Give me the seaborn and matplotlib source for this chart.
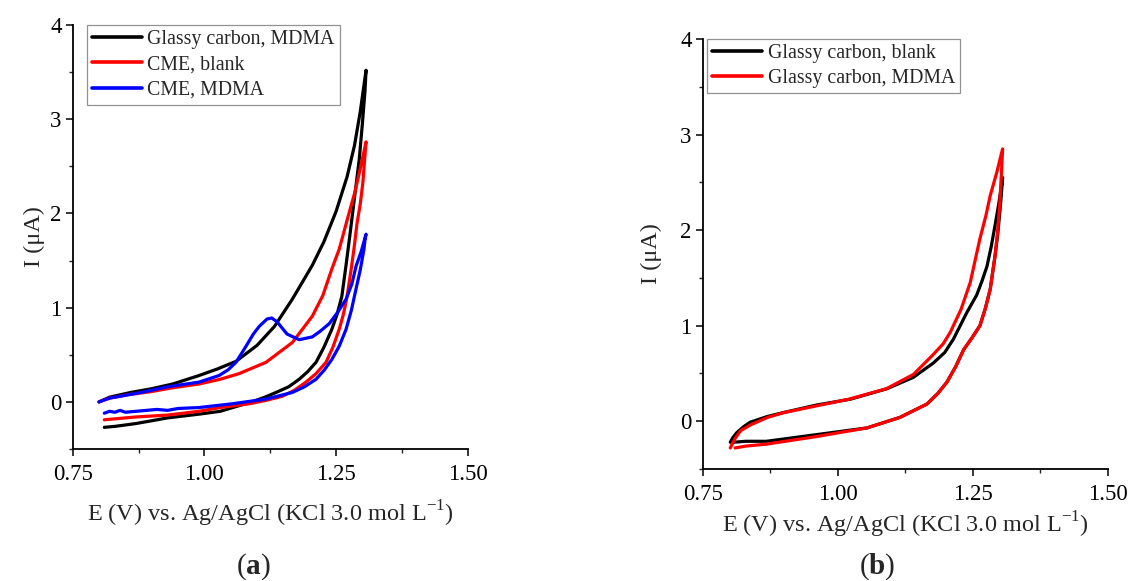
"""
Cyclic voltammograms: (a) glassy carbon vs CME, (b) glassy carbon blank vs MDMA
"""

import numpy as np
import pandas as pd
import matplotlib
matplotlib.use('Agg')
import matplotlib.pyplot as plt
from matplotlib.ticker import AutoMinorLocator, FormatStrFormatter
import seaborn as sns


# ══════════════════════════════════════════════════════
#  DATA (forward scan then return scan)
# ══════════════════════════════════════════════════════
# panel (a)
gc_mdma_E = [0.80, 0.82, 0.86, 0.90, 0.94, 0.99, 1.025, 1.06, 1.10, 1.133, 1.167,
             1.205, 1.227, 1.25, 1.271, 1.285, 1.296, 1.307,
             1.305, 1.300, 1.294, 1.284, 1.277, 1.269, 1.261, 1.252, 1.242,
             1.227, 1.212, 1.196, 1.18, 1.16, 1.136, 1.115, 1.09,
             1.03, 0.99, 0.93, 0.87, 0.83, 0.81]
gc_mdma_I = [0.00, 0.05, 0.10, 0.14, 0.19, 0.28, 0.35, 0.43, 0.60, 0.80, 1.09,
             1.45, 1.70, 2.02, 2.39, 2.72, 3.08, 3.52,
             3.30, 2.95, 2.57, 2.12, 1.80, 1.45, 1.12, 0.93, 0.77,
             0.58, 0.42, 0.32, 0.24, 0.16, 0.10, 0.05, 0.00,
             -0.10, -0.13, -0.17, -0.23, -0.26, -0.27]

cme_blank_E = [0.80, 0.82, 0.86, 0.90, 0.94, 0.99, 1.03, 1.066, 1.117, 1.167, 1.205,
               1.225, 1.242, 1.256, 1.275, 1.286, 1.297, 1.307,
               1.304, 1.301, 1.296, 1.290, 1.284, 1.278, 1.271, 1.264, 1.256,
               1.244, 1.231, 1.212, 1.193, 1.17, 1.148, 1.12, 1.085,
               1.03, 0.99, 0.93, 0.87, 0.83, 0.81]
cme_blank_I = [0.00, 0.04, 0.08, 0.11, 0.15, 0.19, 0.24, 0.30, 0.42, 0.63, 0.91,
               1.13, 1.41, 1.62, 2.01, 2.23, 2.50, 2.76,
               2.55, 2.33, 2.10, 1.90, 1.62, 1.38, 1.12, 0.93, 0.77,
               0.58, 0.42, 0.30, 0.21, 0.12, 0.06, 0.02, -0.02,
               -0.06, -0.10, -0.14, -0.16, -0.18, -0.19]

cme_mdma_E = [0.80, 0.82, 0.84, 0.88, 0.93, 0.99, 1.028, 1.045, 1.06, 1.079, 1.093,
              1.104, 1.119, 1.128, 1.138, 1.157, 1.18, 1.205, 1.22, 1.237, 1.253,
              1.269, 1.28, 1.288, 1.298, 1.307,
              1.305, 1.303, 1.296, 1.288, 1.279, 1.269, 1.256, 1.242, 1.228, 1.212,
              1.19, 1.167, 1.117, 1.053, 0.99,
              0.95, 0.93, 0.91, 0.89, 0.87, 0.85, 0.84, 0.83, 0.82, 0.81]
cme_mdma_I = [0.00, 0.04, 0.06, 0.10, 0.16, 0.21, 0.28, 0.34, 0.42, 0.59, 0.72,
              0.80, 0.88, 0.89, 0.85, 0.72, 0.66, 0.69, 0.75, 0.83, 0.95,
              1.09, 1.25, 1.44, 1.60, 1.78,
              1.72, 1.62, 1.40, 1.20, 0.97, 0.77, 0.59, 0.45, 0.34, 0.24,
              0.16, 0.10, 0.03, -0.02, -0.06,
              -0.07, -0.09, -0.08, -0.09, -0.10, -0.11, -0.09, -0.11, -0.10, -0.12]

# panel (b)
gc_blank_E = [0.801, 0.806, 0.813, 0.825, 0.838, 0.87, 0.899, 0.961, 1.023, 1.091,
              1.140, 1.177, 1.198, 1.214, 1.239, 1.257, 1.267, 1.276, 1.284,
              1.291, 1.298, 1.305,
              1.303, 1.300, 1.296, 1.291, 1.282, 1.273, 1.263, 1.248, 1.233,
              1.218, 1.202, 1.185, 1.165, 1.115, 1.054,
              0.961, 0.868, 0.83, 0.807]
gc_blank_I = [-0.22, -0.17, -0.12, -0.06, -0.01, 0.05, 0.09, 0.17, 0.23, 0.34,
              0.46, 0.61, 0.72, 0.86, 1.14, 1.32, 1.47, 1.62, 1.83,
              2.05, 2.28, 2.55,
              2.40, 2.20, 1.96, 1.73, 1.38, 1.18, 1.00, 0.87, 0.75,
              0.57, 0.41, 0.29, 0.18, 0.04, -0.07,
              -0.14, -0.21, -0.21, -0.22]

gc_mdma_b_E = [0.801, 0.81, 0.82, 0.838, 0.87, 0.90, 0.96, 1.02, 1.09, 1.14, 1.177,
               1.195, 1.208, 1.228, 1.245, 1.263, 1.274, 1.282, 1.294, 1.305,
               1.303, 1.300, 1.296, 1.291, 1.282, 1.273, 1.263, 1.248, 1.233,
               1.218, 1.202, 1.185, 1.165, 1.115, 1.054,
               0.961, 0.868, 0.83, 0.81]
gc_mdma_b_I = [-0.28, -0.18, -0.10, -0.04, 0.04, 0.09, 0.16, 0.23, 0.34, 0.49, 0.70,
               0.81, 0.93, 1.17, 1.45, 1.91, 2.15, 2.36, 2.60, 2.85,
               2.62, 2.30, 2.00, 1.73, 1.38, 1.18, 1.00, 0.87, 0.75,
               0.57, 0.41, 0.29, 0.18, 0.04, -0.07,
               -0.16, -0.24, -0.26, -0.28]

labels_a = ['Glassy carbon, MDMA', 'CME, blank', 'CME, MDMA']
labels_b = ['Glassy carbon, blank', 'Glassy carbon, MDMA']
colors_a = ['black', '#ff0000', '#0000ff']
colors_b = ['black', '#ff0000']

x_ticks = [0.75, 1.00, 1.25, 1.50]
y_ticks = [0, 1, 2, 3, 4]
x_label = 'E (V) vs. Ag/AgCl (KCl 3.0 mol L$^{\\mathregular{-1}}$)'
y_label = 'I (\u03bcA)'


def build_frame(curves, names):
    parts = []
    for (e, i), name in zip(curves, names):
        parts.append(pd.DataFrame({'E': e, 'I': i, 'trace': name}))
    return pd.concat(parts, ignore_index=True)


df_a = build_frame([(gc_mdma_E, gc_mdma_I), (cme_blank_E, cme_blank_I),
                    (cme_mdma_E, cme_mdma_I)], labels_a)
df_b = build_frame([(gc_blank_E, gc_blank_I), (gc_mdma_b_E, gc_mdma_b_I)], labels_b)


# ══════════════════════════════════════════════════════
#  STYLE
# ══════════════════════════════════════════════════════
sns.set_style('ticks')
plt.rcParams['font.family'] = ['Liberation Serif', 'DejaVu Serif']
plt.rcParams['mathtext.fontset'] = 'custom'
plt.rcParams['mathtext.rm'] = 'Liberation Serif'
plt.rcParams['mathtext.bf'] = 'Liberation Serif:bold'
plt.rcParams['axes.unicode_minus'] = False

W, H = 1129, 581
fig = plt.figure(figsize=(W / 100, H / 100), dpi=100)
fig.patch.set_facecolor('white')


def style_axes(ax, legend_anchor, xlabelpad, ylabelpad):
    ax.set_facecolor('white')
    ax.set_xlim(0.75, 1.50)
    ax.set_ylim(-0.5, 4.0)
    ax.set_xticks(x_ticks)
    ax.set_yticks(y_ticks)
    ax.xaxis.set_major_formatter(FormatStrFormatter('%.2f'))
    ax.xaxis.set_minor_locator(AutoMinorLocator(2))
    ax.yaxis.set_minor_locator(AutoMinorLocator(2))
    ax.tick_params(which='major', direction='out', length=5, width=1.1,
                   labelsize=16.5, colors='black')
    ax.tick_params(axis='x', which='major', pad=6)
    ax.tick_params(axis='y', which='major', pad=3)
    ax.tick_params(which='minor', direction='out', length=3, width=1.0)
    sns.despine(ax=ax)
    for s in ['left', 'bottom']:
        ax.spines[s].set_linewidth(1.3)
        ax.spines[s].set_color('black')
    ax.set_xlabel(x_label, fontsize=17.5, labelpad=xlabelpad)
    ax.set_ylabel(y_label, fontsize=17.5, labelpad=ylabelpad)

    handles, labels = ax.get_legend_handles_labels()
    leg = ax.legend(handles, labels, loc='upper left', bbox_to_anchor=legend_anchor,
                    fontsize=14.3, frameon=True, fancybox=False, handlelength=2.5,
                    handletextpad=0.3, labelspacing=0.32, borderpad=0.25,
                    borderaxespad=0.0)
    leg.get_frame().set_edgecolor('#777777')
    leg.get_frame().set_linewidth(0.9)
    for line in leg.get_lines():
        line.set_linewidth(2.6)


# ── panel (a) ──
ax_a = fig.add_axes([72.7 / W, (H - 449) / H, 395 / W, 424 / H])
sns.lineplot(data=df_a, x='E', y='I', hue='trace', hue_order=labels_a,
             palette=colors_a, sort=False, estimator=None, lw=2.3, ax=ax_a)
style_axes(ax_a, (0.036, 1.0), 10, 4)

# ── panel (b) ──
ax_b = fig.add_axes([702.7 / W, (H - 469) / H, 405.3 / W, 430 / H])
sns.lineplot(data=df_b, x='E', y='I', hue='trace', hue_order=labels_b,
             palette=colors_b, sort=False, estimator=None, lw=2.3, ax=ax_b)
style_axes(ax_b, (0.011, 1.0), 3, 13)

fig.text(253 / W, 1 - 567 / H, '($\\mathbf{a}$)', fontsize=21,
         ha='center', va='center')
fig.text(877 / W, 1 - 567 / H, '($\\mathbf{b}$)', fontsize=21,
         ha='center', va='center')

fig.savefig('out.png', dpi=100)
plt.close(fig)
